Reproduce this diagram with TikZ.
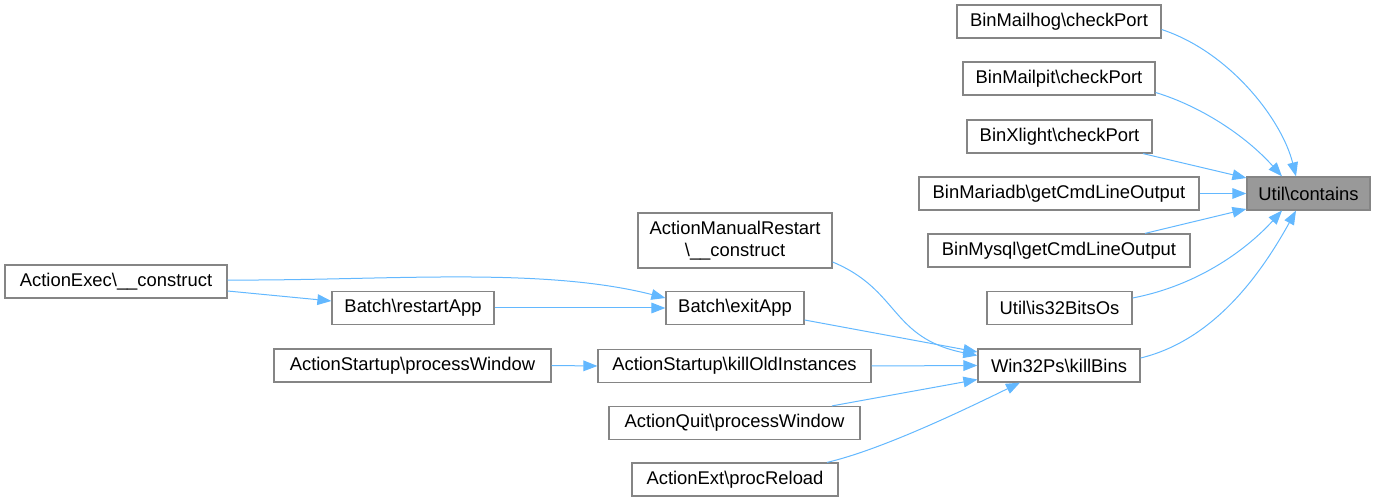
\documentclass[tikz,border=0pt]{standalone}
\usepackage{fontspec}
\setmainfont{Liberation Sans}
\usetikzlibrary{arrows.meta,calc}
\definecolor{edgeblue}{HTML}{63B8FF}
\definecolor{boxborder}{HTML}{858585}
\definecolor{rootfill}{HTML}{999999}
\begin{document}
\begin{tikzpicture}[x=0.75pt,y=-0.75pt,
  fn/.style={draw=boxborder,fill=white,line width=0.9pt,inner sep=0pt,
    minimum height=24.75pt,font=\fontsize{13.8}{16}\selectfont,text=black,align=center},
  rootfn/.style={fn,fill=rootfill},
  call/.style={draw=edgeblue,line width=0.75pt,-{Triangle[length=10.5pt,width=8pt]}}]
\useasboundingbox (0,0) rectangle (1375,502);
% nodes
\node[rootfn,minimum width=92.25pt] (contains) at (1308.5,193.5) {Util\textbackslash contains};
\node[fn,minimum width=153pt] (mailhog) at (1059,21.5) {BinMailhog\textbackslash checkPort};
\node[fn,minimum width=144pt] (mailpit) at (1059,78.5) {BinMailpit\textbackslash checkPort};
\node[fn,minimum width=138.75pt] (xlight) at (1059.5,136.5) {BinXlight\textbackslash checkPort};
\node[fn,minimum width=210pt] (mariadb) at (1059,193.5) {BinMariadb\textbackslash getCmdLineOutput};
\node[fn,minimum width=196.5pt] (mysql) at (1059,250.5) {BinMysql\textbackslash getCmdLineOutput};
\node[fn,minimum width=108.75pt] (is32) at (1059.5,308) {Util\textbackslash is32BitsOs};
\node[fn,minimum width=121.5pt] (killbins) at (1059,365.5) {Win32Ps\textbackslash killBins};
\node[fn,minimum width=145.5pt,minimum height=41.25pt] (manual) at (735,240.5) {ActionManualRestart\\\textbackslash\_\_construct};
\node[fn,minimum width=103.5pt] (exitapp) at (735,308) {Batch\textbackslash exitApp};
\node[fn,minimum width=204.75pt] (killold) at (734.5,366) {ActionStartup\textbackslash killOldInstances};
\node[fn,minimum width=188.25pt] (quit) at (734.5,423) {ActionQuit\textbackslash processWindow};
\node[fn,minimum width=154.5pt] (ext) at (735,479.5) {ActionExt\textbackslash procReload};
\node[fn,minimum width=166.5pt] (actexec) at (116,281.5) {ActionExec\textbackslash\_\_construct};
\node[fn,minimum width=121.5pt] (restart) at (413,308) {Batch\textbackslash restartApp};
\node[fn,minimum width=207.75pt] (startproc) at (412.5,365.5) {ActionStartup\textbackslash processWindow};
% edges into Util\contains
\draw[call] ($(mailhog.east)+(0,8)$) .. controls (1230,52) and (1282,120) .. ($(contains.north)+(-12.5,0)$);
\draw[call] ($(mailpit.east)+(0,14)$) .. controls (1200,106) and (1245,135) .. ($(contains.north)+(-26.5,0)$);
\draw[call] ($(xlight.south)+(83.5,0)$) -- ($(contains.west)+(0,-15.5)$);
\draw[call] (mariadb.east) -- (contains.west);
\draw[call] ($(mysql.north)+(86,0)$) -- ($(contains.west)+(0,15.5)$);
\draw[call] ($(is32.east)+(0,-10)$) .. controls (1200,285) and (1248,248) .. ($(contains.south)+(-26.5,0)$);
\draw[call] ($(killbins.east)+(0,-7.5)$) .. controls (1215,340) and (1262,272) .. ($(contains.south)+(-12.5,0)$);
% edges into Win32Ps\killBins
\draw[call] ($(manual.east)+(0,21.5)$) .. controls (900,290) and (890,338) .. ($(killbins.west)+(0,-10)$);
\draw[call] ($(exitapp.east)+(0,12)$) -- ($(killbins.west)+(0,-13.5)$);
\draw[call] (killold.east) -- (killbins.west);
\draw[call] ($(quit.north)+(97.5,0)$) -- ($(killbins.west)+(0,14)$);
\draw[call] ($(ext.north)+(92,0)$) .. controls (880,450) and (960,412) .. ($(killbins.south)+(-39,0)$);
% left part
\draw[call] ($(actexec.east)+(0,-1.5)$) .. controls (380,281) and (540,266) .. ($(exitapp.west)+(0,-10)$);
\draw[call] ($(actexec.east)+(0,9.5)$) -- ($(restart.west)+(0,-7)$);
\draw[call] (restart.east) -- (exitapp.west);
\draw[call] (startproc.east) -- (killold.west);
\end{tikzpicture}
\end{document}
